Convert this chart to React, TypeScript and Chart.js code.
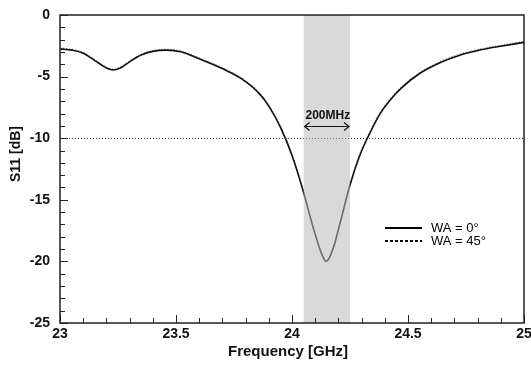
import { useEffect, useRef } from "react";
import { Chart, registerables } from "chart.js";

Chart.register(...registerables);

const FONT = "'Liberation Sans', Arial, Helvetica, sans-serif";

// Frequency [GHz]
const freq = [
  23.0, 23.05, 23.1, 23.15, 23.2, 23.23, 23.26, 23.3, 23.35, 23.4, 23.46, 23.52, 23.6, 23.7, 23.78,
  23.86, 23.9, 23.95, 24.0, 24.05, 24.08, 24.12, 24.135, 24.147, 24.16, 24.18, 24.21, 24.25, 24.29, 24.33,
  24.38, 24.43, 24.47, 24.55, 24.64, 24.72, 24.81, 24.9, 25.0,
];
// S11 [dB], WA = 0°
const s11WA0 = [
  -2.75, -2.85, -3.1, -3.7, -4.3, -4.46, -4.3, -3.8, -3.25, -2.95, -2.85, -2.98, -3.55, -4.35, -5.15,
  -6.4, -7.4, -9.1, -11.4, -14.4, -16.5, -19.0, -19.7, -20.0, -19.75, -18.8, -16.7, -13.8, -11.5, -9.8,
  -8.0, -6.75, -5.95, -4.75, -3.85, -3.28, -2.84, -2.53, -2.22,
];
// S11 [dB], WA = 45°
const s11WA45 = [
  -2.68, -2.78, -3.03, -3.63, -4.23, -4.4, -4.24, -3.74, -3.19, -2.89, -2.79, -2.92, -3.49, -4.29, -5.09,
  -6.33, -7.33, -9.02, -11.32, -14.33, -16.45, -18.97, -19.68, -19.98, -19.72, -18.75, -16.62, -13.72, -11.42, -9.72,
  -7.92, -6.68, -5.88, -4.68, -3.78, -3.21, -2.77, -2.46, -2.15,
];

const seriesLabels = ["WA = 0°", "WA = 45°"];
const xRange = [23, 25];
const yRange = [-25, 0];
const xMajorStep = 0.5;
const xMinorStep = 0.1;
const yMajorStep = 5;
const yMinorStep = 1;
const refLevel = -10;
const bandStart = 24.05;
const bandEnd = 24.25;
const bandLabel = "200MHz";
const arrowLevel = -9;

const isMultiple = (v: number, step: number) => Math.abs(v / step - Math.round(v / step)) < 1e-6;

const overlay = {
  id: "overlay",
  beforeDatasetsDraw(chart: any) {
    const { ctx, chartArea, scales } = chart;
    const { left, right } = chartArea;
    const yy = Math.round(scales.y.getPixelForValue(refLevel)) + 0.5;
    ctx.save();
    ctx.strokeStyle = "#333";
    ctx.lineWidth = 1;
    ctx.setLineDash([1, 2]);
    ctx.beginPath();
    ctx.moveTo(left, yy);
    ctx.lineTo(right, yy);
    ctx.stroke();
    ctx.restore();
  },
  afterDatasetsDraw(chart: any) {
    const { ctx, chartArea, scales } = chart;
    const { left, right, top, bottom } = chartArea;
    const x = scales.x;
    const y = scales.y;
    ctx.save();

    // shaded band
    const bx0 = x.getPixelForValue(bandStart);
    const bx1 = x.getPixelForValue(bandEnd);
    ctx.fillStyle = "rgba(185,185,185,0.55)";
    ctx.fillRect(bx0, top, bx1 - bx0, bottom - top);

    // double arrow
    const ay = Math.round(y.getPixelForValue(arrowLevel)) + 0.5;
    ctx.strokeStyle = "#111";
    ctx.lineWidth = 1.2;
    ctx.beginPath();
    ctx.moveTo(bx0 + 1, ay);
    ctx.lineTo(bx1 - 1, ay);
    ctx.moveTo(bx0 + 6, ay - 4);
    ctx.lineTo(bx0 + 1, ay);
    ctx.lineTo(bx0 + 6, ay + 4);
    ctx.moveTo(bx1 - 6, ay - 4);
    ctx.lineTo(bx1 - 1, ay);
    ctx.lineTo(bx1 - 6, ay + 4);
    ctx.stroke();
    ctx.fillStyle = "#111";
    ctx.font = `bold 12px ${FONT}`;
    ctx.textAlign = "center";
    ctx.textBaseline = "middle";
    ctx.fillText(bandLabel, (bx0 + bx1) / 2 + 1, ay - 10.5);

    // legend
    const lx0 = 385;
    const lx1 = 422;
    const ly = [228, 241];
    ctx.font = `13px ${FONT}`;
    ctx.textAlign = "left";
    ctx.textBaseline = "middle";
    ctx.lineWidth = 2;
    ctx.strokeStyle = "#000";
    ctx.beginPath();
    ctx.moveTo(lx0, ly[0]);
    ctx.lineTo(lx1, ly[0]);
    ctx.stroke();
    ctx.setLineDash([3, 2]);
    ctx.beginPath();
    ctx.moveTo(lx0, ly[1]);
    ctx.lineTo(lx1, ly[1]);
    ctx.stroke();
    ctx.setLineDash([]);
    ctx.fillStyle = "#000";
    ctx.fillText(seriesLabels[0], 431, ly[0] + 0.5);
    ctx.fillText(seriesLabels[1], 431, ly[1] + 0.5);

    // frame
    ctx.strokeStyle = "#222";
    ctx.lineWidth = 1.5;
    ctx.strokeRect(left, top, right - left, bottom - top);

    // inward ticks
    ctx.lineWidth = 1;
    ctx.strokeStyle = "#222";
    ctx.beginPath();
    for (const t of x.ticks) {
      const px = Math.round(x.getPixelForValue(t.value)) + 0.5;
      const len = isMultiple(t.value, xMajorStep) ? 8 : 5;
      ctx.moveTo(px, bottom);
      ctx.lineTo(px, bottom - len);
    }
    for (const t of y.ticks) {
      const py = Math.round(y.getPixelForValue(t.value)) + 0.5;
      const len = isMultiple(t.value, yMajorStep) ? 8 : 5;
      ctx.moveTo(left, py);
      ctx.lineTo(left + len, py);
    }
    ctx.stroke();

    // axis titles
    ctx.fillStyle = "#111";
    ctx.font = `bold 15px ${FONT}`;
    ctx.textAlign = "center";
    ctx.textBaseline = "middle";
    ctx.fillText("Frequency [GHz]", (left + right) / 2 - 4, 352);
    ctx.save();
    ctx.translate(16, 154);
    ctx.rotate(-Math.PI / 2);
    ctx.font = `bold 14px ${FONT}`;
    ctx.fillText("S11 [dB]", 0, 0);
    ctx.restore();

    ctx.restore();
  },
};

export default function App() {
  const ref = useRef<HTMLCanvasElement>(null);
  useEffect(() => {
    document.body.style.margin = "0";
    const chart = new Chart(ref.current as HTMLCanvasElement, {
      type: "line",
      data: {
        datasets: [
          {
            label: seriesLabels[0],
            data: freq.map((f, i) => ({ x: f, y: s11WA0[i] })),
            borderColor: "#111",
            borderWidth: 1.6,
            pointRadius: 0,
            cubicInterpolationMode: "monotone",
          },
          {
            label: seriesLabels[1],
            data: freq.map((f, i) => ({ x: f, y: s11WA45[i] })),
            borderColor: "#888",
            borderWidth: 1.2,
            borderDash: [1.5, 1.5],
            pointRadius: 0,
            cubicInterpolationMode: "monotone",
          },
        ],
      },
      options: {
        responsive: false,
        animation: false,
        layout: { padding: { top: 15, right: 7, left: 0, bottom: 0 } },
        plugins: { legend: { display: false }, tooltip: { enabled: false } },
        scales: {
          x: {
            type: "linear",
            min: xRange[0],
            max: xRange[1],
            grid: { display: false, drawTicks: false },
            border: { display: false },
            afterFit: (s: any) => {
              s.height = 42;
              s.paddingLeft = 0;
              s.paddingRight = 0;
            },
            ticks: {
              stepSize: xMinorStep,
              autoSkip: false,
              maxRotation: 0,
              padding: 3,
              color: "#111",
              font: { family: FONT, size: 14, weight: "bold" },
              callback: (v: any) => (isMultiple(Number(v), xMajorStep) ? String(Math.round(Number(v) * 10) / 10) : ""),
            },
          },
          y: {
            type: "linear",
            min: yRange[0],
            max: yRange[1],
            grid: { display: false, drawTicks: false },
            border: { display: false },
            afterFit: (s: any) => {
              s.width = 60;
              s.paddingTop = 0;
              s.paddingBottom = 0;
            },
            ticks: {
              stepSize: yMinorStep,
              autoSkip: false,
              padding: 10,
              color: "#111",
              font: { family: FONT, size: 14, weight: "bold" },
              callback: (v: any) => (isMultiple(Number(v), yMajorStep) ? String(Math.round(Number(v))) : ""),
            },
          },
        },
      } as any,
      plugins: [overlay],
    });
    return () => chart.destroy();
  }, []);
  return (
    <div style={{ width: 531, height: 365 }}>
      <canvas ref={ref} width={531} height={365} style={{ display: "block" }} />
    </div>
  );
}
